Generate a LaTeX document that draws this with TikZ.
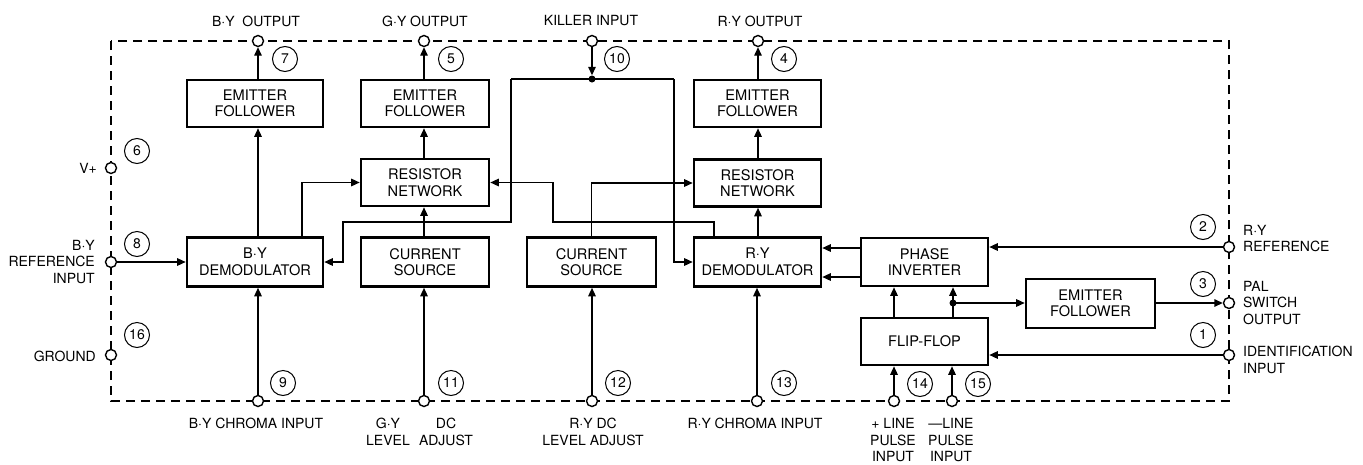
\documentclass[tikz,border=0pt]{standalone}
\usepackage{fontspec}
\setmainfont{TeX Gyre Heros}
\usetikzlibrary{arrows.meta}
\begin{document}
\begin{tikzpicture}[x=1pt,y=-1pt,
  txt/.style={font=\fontsize{14}{16.5}\selectfont, inner sep=0pt, align=center},
  blk/.style={txt, font=\fontsize{14.6}{16.5}\selectfont, draw, line width=2.6pt, minimum height=47pt},
  pin/.style={circle, draw, fill=white, line width=1.4pt, minimum size=11pt, inner sep=0pt},
  numc/.style={circle, draw, line width=1pt, minimum size=25pt, inner sep=0pt, font=\fontsize{14}{14}\selectfont},
  wire/.style={line width=1.4pt},
  arr/.style={wire, -{Triangle[length=8.5pt,width=7.5pt]}},
  dot/.style={circle, fill, inner sep=0pt, minimum size=7pt},
  border/.style={line width=1.3pt, dash pattern=on 9pt off 6pt}]
\useasboundingbox (0,0) rectangle (1363,464);

% dashed package outline
\draw[border] (111,41) rectangle (1229,401);

% blocks
\node[blk, minimum width=136pt] (ef1) at (255,103.5) {EMITTER\\FOLLOWER};
\node[blk, minimum width=128pt] (ef2) at (425,103.5) {EMITTER\\FOLLOWER};
\node[blk, minimum width=127pt] (ef3) at (757.5,103.5) {EMITTER\\FOLLOWER};
\node[blk, minimum width=128pt] (rn1) at (425,182.5) {RESISTOR\\NETWORK};
\node[blk, minimum width=127pt] (rn2) at (757.5,183) {RESISTOR\\NETWORK};
\node[blk, minimum width=136pt, minimum height=49pt] (bydem) at (255,262) {B·Y\\DEMODULATOR};
\node[blk, minimum width=128pt, minimum height=49pt] (cs1) at (425,262) {CURRENT\\SOURCE};
\node[blk, minimum width=129pt, minimum height=49pt] (cs2) at (591.5,262) {CURRENT\\SOURCE};
\node[blk, minimum width=127pt, minimum height=49pt] (rydem) at (757.5,262) {R·Y\\DEMODULATOR};
\node[blk, minimum width=127pt, minimum height=48pt] (pi) at (924.5,262) {PHASE\\INVERTER};
\node[blk, minimum width=127pt] (ff) at (924.5,341.5) {FLIP-FLOP};
\node[blk, minimum width=129pt, minimum height=49pt] (ef4) at (1090.5,303.5) {EMITTER\\FOLLOWER};

% pins
\node[pin] (p7) at (258,41) {};
\node[pin] (p5) at (424,41) {};
\node[pin] (p10) at (592,41) {};
\node[pin] (p4) at (758,41) {};
\node[pin] (p6) at (111,168) {};
\node[pin] (p8) at (111,262) {};
\node[pin] (p16) at (111,355) {};
\node[pin] (p9) at (258,401) {};
\node[pin] (p11) at (424,401) {};
\node[pin] (p12) at (592,401) {};
\node[pin] (p13) at (757,401) {};
\node[pin] (p14) at (894,401) {};
\node[pin] (p15) at (952,401) {};
\node[pin] (p2) at (1229,247) {};
\node[pin] (p3) at (1229,303) {};
\node[pin] (p1) at (1229,355) {};

% pin numbers
\node[numc] (n7) at (285,59) {7};
\node[numc] (n5) at (451,59) {5};
\node[numc] (n10) at (617,59) {10};
\node[numc] (n4) at (784,59) {4};
\node[numc] (n6) at (137,151) {6};
\node[numc] (n8) at (137,244) {8};
\node[numc] (n16) at (137,335) {16};
\node[numc] (n9) at (283,383) {9};
\node[numc] (n11) at (451,383) {11};
\node[numc] (n12) at (618,383) {12};
\node[numc] (n13) at (784,383) {13};
\node[numc] (n14) at (920,384) {14};
\node[numc] (n15) at (978,384) {15};
\node[numc] (n2) at (1203,227) {2};
\node[numc] (n3) at (1203,284) {3};
\node[numc] (n1) at (1203,335) {1};

% pin labels
\node[txt] (l7) at (256,21) {B·Y\ \ OUTPUT};
\node[txt] (l5) at (425,21) {G·Y OUTPUT};
\node[txt] (l10) at (591,21) {KILLER INPUT};
\node[txt] (l4) at (760,21) {R·Y OUTPUT};
\node[txt, anchor=east] (l6) at (97,168) {V+};
\node[txt, anchor=east, align=right] (l8) at (95,262) {B·Y\\REFERENCE\\INPUT};
\node[txt, anchor=east] (l16) at (96,356) {GROUND};
\node[txt] (l9) at (256,423) {B·Y CHROMA INPUT};
\node[txt] (l11a) at (388,432) {G·Y\\LEVEL};
\node[txt] (l11b) at (446,432) {DC\\ADJUST};
\node[txt] (l12) at (593,432) {R·Y DC\\LEVEL ADJUST};
\node[txt] (l13) at (755,423) {R·Y CHROMA INPUT};
\node[txt] (l14) at (893,440.5) {+ LINE\\PULSE\\INPUT};
\node[txt] (l15) at (951,440.5) {—LINE\\PULSE\\INPUT};
\node[txt, anchor=west, align=left] (l2) at (1243,238.5) {R·Y\\REFERENCE};
\node[txt, anchor=west, align=left] (l3) at (1243,303) {PAL\\SWITCH\\OUTPUT};
\node[txt, anchor=west, align=left] (l1) at (1243,360) {IDENTIFICATION\\INPUT};

% helper coordinates
\coordinate (xby) at (302,0);
\coordinate (k1) at (511,79);
\coordinate (k2) at (674,79);
\coordinate (k3) at (511,222);
\coordinate (k4) at (343,222);
\coordinate (r1) at (714,222);
\coordinate (r2) at (553,222);
\coordinate (pa) at (0,248);
\coordinate (pb) at (0,277);
\coordinate (fx) at (894,0);
\node[dot] (kj) at (592,79) {};
\node[dot] (fj) at (953,303) {};

% B-Y chain
\draw[arr] (ef1.north -| p7) -- (p7);
\draw[arr] (bydem.north -| p7) -- (ef1.south -| p7);
\draw[arr] (p9) -- (bydem.south -| p9);
\draw[arr] (p8) -- (bydem.west |- p8);
\draw[arr] (bydem.north -| xby) |- (rn1.west);

% G-Y chain
\draw[arr] (p11) -- (cs1.south -| p11);
\draw[arr] (cs1.north -| p11) -- (rn1.south -| p11);
\draw[arr] (rn1.north -| p5) -- (ef2.south -| p5);
\draw[arr] (ef2.north -| p5) -- (p5);

% killer
\draw[arr] (p10) -- (kj);
\draw[wire] (k1) -- (k2);
\draw[arr] (k1) -- (k3) -- (k4) |- (bydem.east);
\draw[arr] (k2) |- (rydem.west);

% cross links
\draw[arr] (rydem.north -| r1) -- (r1) -- (r2) |- (rn1.east);
\draw[arr] (cs2.north) |- (rn2.west);
\draw[arr] (p12) -- (cs2.south -| p12);

% R-Y chain
\draw[arr] (p13) -- (rydem.south -| p13);
\draw[arr] (rydem.north -| p4) -- (rn2.south -| p4);
\draw[arr] (rn2.north -| p4) -- (ef3.south -| p4);
\draw[arr] (ef3.north -| p4) -- (p4);

% phase inverter / flip-flop
\draw[arr] (pi.west |- pa) -- (rydem.east |- pa);
\draw[arr] (pi.west |- pb) -- (rydem.east |- pb);
\draw[arr] (p2) -- (pi.east |- p2);
\draw[arr] (ff.north -| fx) -- (pi.south -| fx);
\draw[wire] (ff.north -| fj) -- (fj.center);
\draw[arr] (fj.center) -- (pi.south -| fj);
\draw[arr] (fj.center) -- (ef4.west |- fj);
\draw[arr] (ef4.east |- p3) -- (p3);
\draw[arr] (p1) -- (ff.east |- p1);
\draw[arr] (p14) -- (ff.south -| p14);
\draw[arr] (p15) -- (ff.south -| p15);
\end{tikzpicture}
\end{document}
